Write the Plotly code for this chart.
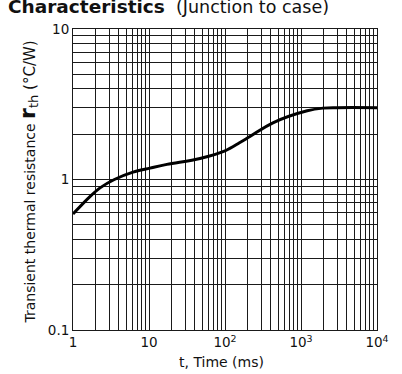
import plotly.graph_objects as go

# Transient thermal resistance curve
t_ms = [1, 1.67, 2.27, 3.5, 6.16, 10.3, 17.2, 46.9, 100, 157, 213, 427, 1207, 1942, 3000, 10000]
r_th = [0.59, 0.77, 0.88, 1.0, 1.12, 1.19, 1.26, 1.38, 1.55, 1.76, 1.93, 2.38, 2.86, 2.98, 3.0, 3.0]

x_major = [1, 10, 100, 1000, 10000]
x_major_text = ["1", "10", "10<sup>2</sup>", "10<sup>3</sup>", "10<sup>4</sup>"]
y_major = [0.1, 1, 10]
y_major_text = ["0.1", "1", "10"]

def log_ticks(decades, majors, major_text):
    vals, txt = [], []
    for d in decades:
        for m in range(1, 10):
            v = m * 10 ** d
            vals.append(v)
            txt.append("")
    vals.append(10 ** (decades[-1] + 1))
    txt.append("")
    for mv, mt in zip(majors, major_text):
        for i, v in enumerate(vals):
            if abs(v - mv) / mv < 1e-9:
                txt[i] = mt
    return vals, txt

xv, xt = log_ticks([0, 1, 2, 3], x_major, x_major_text)
yv, yt = log_ticks([-1, 0], y_major, y_major_text)

FONT = "DejaVu Sans, sans-serif"

fig = go.Figure()
fig.add_trace(go.Scatter(x=t_ms, y=r_th, mode="lines",
                         line=dict(color="black", width=3, shape="spline", smoothing=1.0),
                         hoverinfo="skip", showlegend=False))

fig.update_layout(
    width=402, height=374,
    margin=dict(l=73, r=25, t=29, b=44),
    paper_bgcolor="white", plot_bgcolor="white",
    font=dict(family=FONT, size=14, color="#111"),
    xaxis=dict(type="log", range=[0, 4], tickvals=xv, ticktext=xt,
               showgrid=True, gridcolor="#1a1a1a", gridwidth=1,
               showline=True, linecolor="#1a1a1a", linewidth=1, mirror=True,
               ticks="", zeroline=False, tickfont=dict(size=13.5),
               automargin=False),
    yaxis=dict(type="log", range=[-1, 1], tickvals=yv, ticktext=yt,
               showgrid=True, gridcolor="#1a1a1a", gridwidth=1,
               showline=True, linecolor="#1a1a1a", linewidth=1, mirror=True,
               ticks="", zeroline=False, tickfont=dict(size=13.5),
               automargin=False),
)

# x-axis title
fig.add_annotation(
    xref="paper", yref="paper", x=0.49, y=-0.106, xanchor="center", yanchor="middle",
    showarrow=False, text="t, Time (ms)",
    font=dict(family=FONT, size=14, color="#111"))

# y-axis title
fig.add_annotation(
    xref="paper", yref="paper", x=-0.148, y=0.49, xanchor="center", yanchor="middle",
    textangle=-90, showarrow=False,
    text=("<span style='font-size:14px'>Transient thermal resistance </span>"
          "<b><span style='font-size:22px'>r</span></b>"
          "<sub><span style='font-size:13px'>th</span></sub>"
          "<span style='font-size:15px'> (°C/W)</span>"),
    font=dict(family=FONT, color="#111"))

# chart title (partly cut off at the top, as in the reference)
fig.add_annotation(
    xref="paper", yref="paper", x=-0.22, y=1.0, xanchor="left", yanchor="bottom",
    yshift=10, showarrow=False,
    text=("<b><span style='font-size:18.5px'>Characteristics</span></b>"
          "<span style='font-size:17.5px'>  (Junction to case)</span>"),
    font=dict(family=FONT, color="#111"))

fig.write_html("out.html")
